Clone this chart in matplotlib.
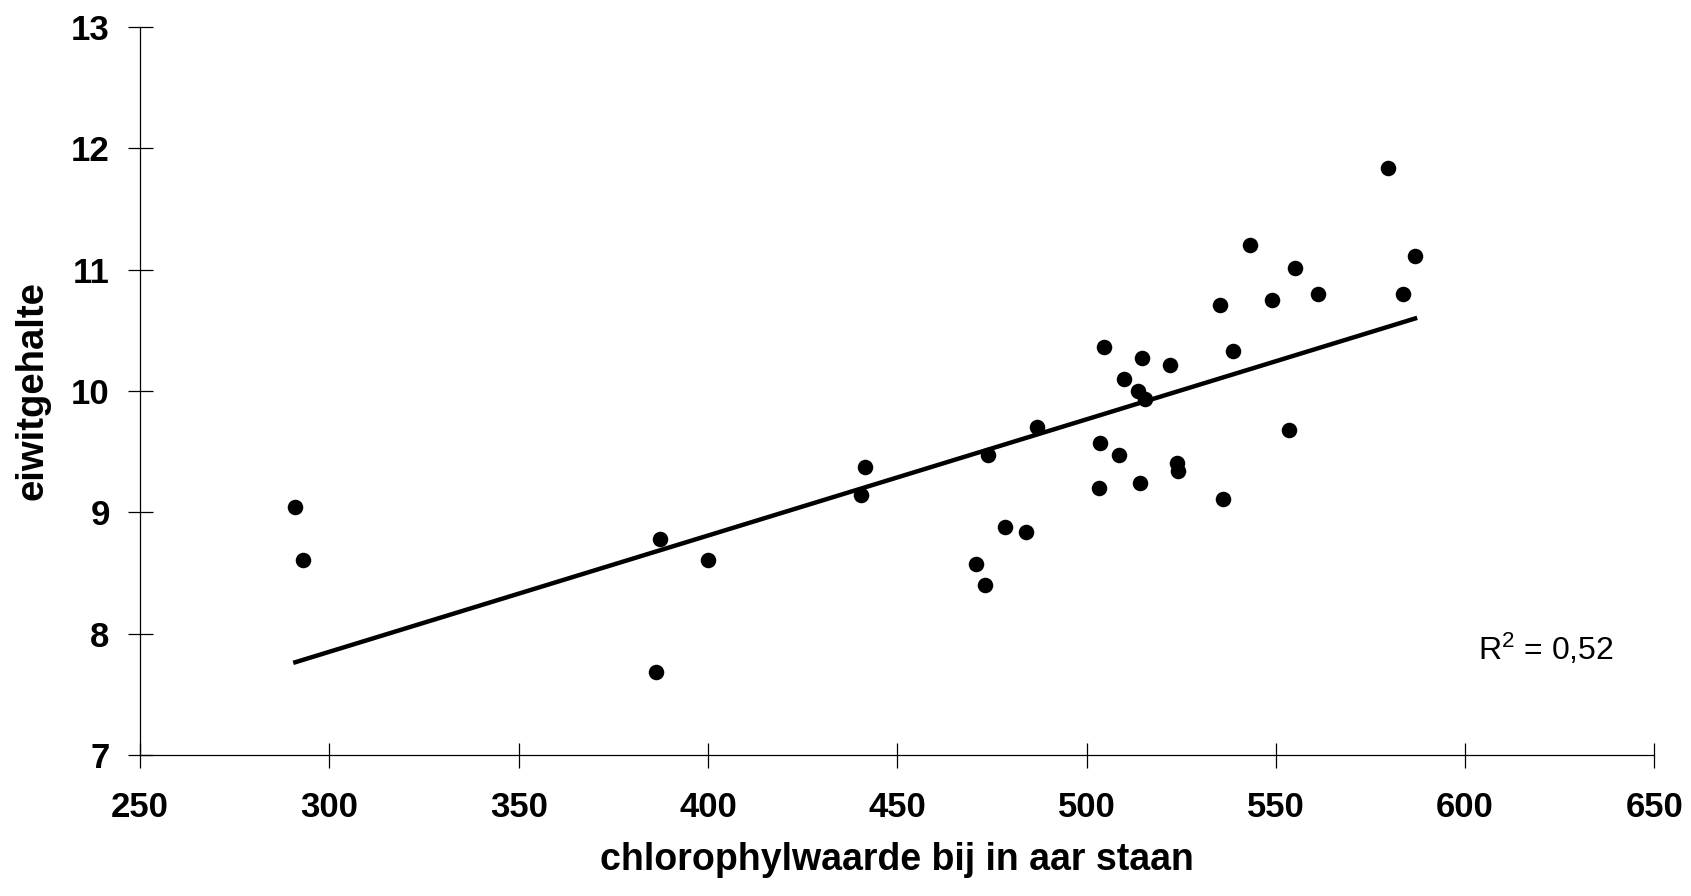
import numpy as np
import matplotlib
matplotlib.use('Agg')
import matplotlib.pyplot as plt

plt.rcParams['font.family'] = ['Liberation Sans', 'DejaVu Sans']
plt.rcParams['mathtext.fontset'] = 'custom'
plt.rcParams['mathtext.rm'] = 'Liberation Sans'
plt.rcParams['mathtext.default'] = 'rm'

# chlorophyl value vs protein content
chloro = [291.0, 293.0, 386.2, 387.3, 399.9, 440.3, 441.5, 470.8, 473.1, 473.9,
          478.5, 483.9, 486.8, 503.3, 503.6, 504.7, 508.7, 509.8, 513.5, 514.1,
          514.7, 515.5, 522.1, 523.8, 524.1, 535.2, 536.0, 538.6, 543.2, 549.1,
          553.4, 555.1, 561.1, 579.6, 583.6, 586.8]
eiwit = [9.04, 8.61, 7.68, 8.78, 8.61, 9.14, 9.37, 8.57, 8.40, 9.47,
         8.88, 8.84, 9.70, 9.20, 9.57, 10.36, 9.47, 10.10, 10.00, 9.24,
         10.27, 9.93, 10.21, 9.41, 9.34, 10.71, 9.11, 10.33, 11.20, 10.75,
         9.68, 11.01, 10.80, 11.84, 10.80, 11.11]
xticks = [250, 300, 350, 400, 450, 500, 550, 600, 650]
yticks = [7, 8, 9, 10, 11, 12, 13]

fig = plt.figure(figsize=(16.91, 8.96), dpi=100)
ax = fig.add_axes([0.0829, 0.1574, 0.8954, 0.8125])

ax.scatter(chloro, eiwit, s=125, color='black', zorder=3, linewidths=0)

# linear trendline
a, b = np.polyfit(chloro, eiwit, 1)
xl = np.array([min(chloro), max(chloro)])
ax.plot(xl, a * xl + b, color='black', lw=3.2, zorder=2)

ax.text(621.4, 7.87, 'R$^2$ = 0,52', fontsize=23, ha='center', va='center')

ax.set_xlim(250, 650)
ax.set_ylim(7, 13)
ax.set_xticks(xticks)
ax.set_yticks(yticks)
ax.spines['top'].set_visible(False)
ax.spines['right'].set_visible(False)
for s in ['left', 'bottom']:
    ax.spines[s].set_linewidth(0.9)
ax.tick_params(direction='inout', length=18, width=0.9, labelsize=25)
ax.tick_params(axis='y', pad=13)
ax.tick_params(axis='x', pad=17)
for lab in ax.get_xticklabels() + ax.get_yticklabels():
    lab.set_fontweight('bold')

ax.set_xlabel('chlorophylwaarde bij in aar staan', fontsize=27, fontweight='bold', labelpad=13)
ax.set_ylabel('eiwitgehalte', fontsize=27.5, fontweight='bold', labelpad=15)

fig.savefig('out.png', dpi=100)
